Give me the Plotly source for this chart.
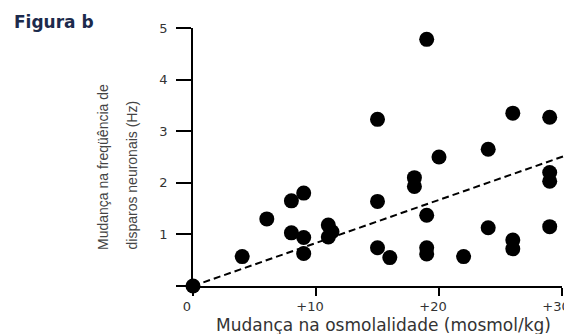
import plotly.graph_objects as go

# Data
osm_change = [0, 4, 6, 8, 9, 8, 9, 9, 11, 11, 11.3, 15, 15, 15, 16,
              19, 18, 18, 19, 19, 19, 20, 22, 24, 24, 26, 26, 26,
              29, 29, 29, 29]
freq_change = [0, 0.57, 1.3, 1.65, 1.8, 1.03, 0.94, 0.63, 1.18, 0.95, 1.05,
               3.23, 1.64, 0.74, 0.55,
               4.78, 2.1, 1.93, 1.37, 0.74, 0.62, 2.5, 0.57, 2.65, 1.13,
               3.35, 0.89, 0.72,
               3.27, 2.2, 2.03, 1.15]
fit_x = [0, 30.8]
fit_y = [0, 2.57]

x_ticks = [0, 10, 20, 30]
x_tick_labels = ["0", "+10", "+20", "+30"]
y_ticks = [0, 1, 2, 3, 4, 5]
y_tick_labels = ["", "1", "2", "3", "4", "5"]

# the page body has an 8px margin; work in reference pixels and shift
OFF = 8
W, H = 572 - OFF, 334 - OFF
L = 193 - OFF
T = 28 - OFF
B = H - (286 - OFF)
R = 0
PW = W - L - R
PH = H - T - B
main_dom = (562 - OFF - L) / PW


def px(xp):
    return (xp - OFF - L) / PW


def py(yp):
    return (H - B - (yp - OFF)) / PH


fig = go.Figure()
fig.add_trace(go.Scatter(
    x=fit_x, y=fit_y, mode="lines", xaxis="x2", yaxis="y",
    line=dict(color="black", width=2, dash="7px,4px"),
    hoverinfo="skip", showlegend=False))
fig.add_trace(go.Scatter(
    x=osm_change, y=freq_change, mode="markers",
    marker=dict(color="black", size=15, line=dict(width=0)),
    cliponaxis=False, showlegend=False))

tick_font = dict(family="DejaVu Sans", size=13, color="#333333")
fig.update_layout(
    width=W, height=H,
    margin=dict(l=L, r=R, t=T, b=B, autoexpand=False),
    paper_bgcolor="white", plot_bgcolor="rgba(0,0,0,0)",
    xaxis=dict(domain=[0, main_dom], range=[0, 30], showgrid=False,
               zeroline=False, showline=True, linecolor="black", linewidth=1.5,
               ticks="outside", ticklen=8, tickwidth=1.5, tickcolor="black",
               tickvals=x_ticks, ticktext=x_tick_labels, tickfont=tick_font,
               ticklabeloverflow="allow", ticklabelshift=-6,
               anchor="y", automargin=False),
    xaxis2=dict(domain=[0, 1], range=[0, 30 / main_dom], visible=False,
                anchor="y", automargin=False),
    yaxis=dict(range=[0, 5], showgrid=False, zeroline=False, showline=True,
               linecolor="black", linewidth=1.5, ticks="outside", ticklen=15,
               tickwidth=1.5, tickcolor="black", tickvals=y_ticks,
               ticktext=y_tick_labels, tickfont=tick_font,
               ticklabelstandoff=6, anchor="x", automargin=False),
    annotations=[
        dict(text="<b>Figura b</b>", xref="paper", yref="paper",
             x=px(12), y=py(10), xanchor="left", yanchor="top",
             showarrow=False,
             font=dict(family="DejaVu Sans", size=17, color="#1c2a4c")),
        dict(text="Mudança na freqüência de", xref="paper", yref="paper",
             x=px(103), y=py(252), xanchor="center", yanchor="bottom",
             textangle=-90, showarrow=False,
             font=dict(family="Liberation Sans", size=14, color="#444444")),
        dict(text="disparos neuronais (Hz)", xref="paper", yref="paper",
             x=px(131), y=py(252), xanchor="center", yanchor="bottom",
             textangle=-90, showarrow=False,
             font=dict(family="Liberation Sans", size=14, color="#444444")),
        dict(text="Mudança na osmolalidade (mosmol/kg)", xref="paper",
             yref="paper", x=px(383), y=py(325), xanchor="center",
             yanchor="middle", showarrow=False,
             font=dict(family="DejaVu Sans", size=17, color="#333333")),
    ],
)

fig.write_html("out.html")
